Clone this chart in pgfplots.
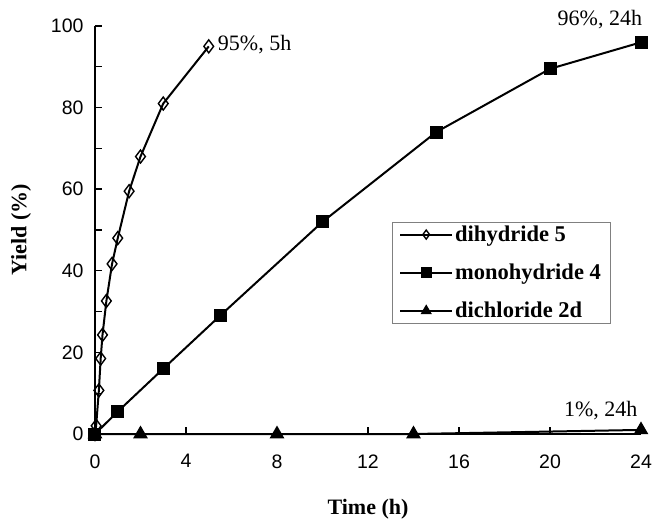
\documentclass[border=0pt]{standalone}
\usepackage{fontspec}
\setmainfont{Liberation Serif}
\newfontfamily\arial{Liberation Sans}
\usepackage{pgfplots}
\pgfplotsset{compat=1.18}

\begin{document}
\begin{tikzpicture}
  \begin{axis}[
      name=ax,
      scale only axis,
      width=546pt,
      height=408pt,
      xmin=0, xmax=24,
      ymin=0, ymax=100,
      axis lines=left,
      axis line style={line width=2pt, -},
      xtick={0,4,...,24},
      ytick={0,20,...,100},
      minor ytick={10,30,...,90},
      tick align=inside,
      major tick length=7pt,
      minor tick length=7pt,
      tick style={line width=1.4pt, black},
      /pgf/number format/assume math mode=true,
      tick label style={font=\arial\fontsize{19.5}{22}\selectfont},
      xticklabel style={yshift=-17pt},
      yticklabel style={xshift=-8pt},
      xlabel={\textbf{Time (h)}},
      ylabel={\textbf{Yield (\%)}},
      label style={font=\fontsize{22}{26}\selectfont},
      xlabel style={at={(axis description cs:0.5,0)}, yshift=-75pt, anchor=center},
      ylabel style={at={(axis description cs:-0.1355,0.5)}, anchor=center},
      clip=false,
      legend style={at={(0.544,0.52)}, anchor=north west, draw=gray,
        font=\bfseries\fontsize{22.5}{26}\selectfont, inner xsep=7pt, inner ysep=2pt,
        row sep=17pt, legend cell align=left},
      legend image code/.code={
        \draw[#1, line width=2pt, mark size=4.5pt, mark repeat=2, mark phase=2]
          plot coordinates {(0pt,0pt) (26pt,0pt) (52pt,0pt)};},
    ]
    \addplot[black, line width=2pt, mark=diamond, mark size=6.5pt,
      mark options={fill=white, line width=1.4pt}]
      coordinates {(0,0) (0.05,2) (0.17,10.7) (0.25,18.5) (0.33,24.3) (0.5,32.6)
        (0.75,41.7) (1,48) (1.5,59.5) (2,68) (3,81) (5,95)};
    \addlegendentry{dihydride 5}
    \addplot[black, line width=2pt, mark=square*, mark size=5.5pt]
      coordinates {(0,0) (1,5.5) (3,16) (5.5,29) (10,52) (15,74) (20,89.5) (24,96)};
    \addlegendentry{monohydride 4}
    \addplot[black, line width=2pt, mark=triangle*, mark size=6.5pt]
      coordinates {(0,0) (2,0) (8,0) (14,0) (24,1)};
    \addlegendentry{dichloride 2d}
    \node[anchor=west, font=\fontsize{22}{26}\selectfont] at (axis cs:5.25,95.5) {95\%, 5h};
    \node[anchor=south east, font=\fontsize{22}{26}\selectfont] at (axis cs:24.2,98.5) {96\%, 24h};
    \node[anchor=south east, font=\fontsize{22}{26}\selectfont] at (axis cs:24,2.5) {1\%, 24h};
  \end{axis}
  \pgfresetboundingbox
  \path ([xshift=-95pt,yshift=-85pt]ax.south west) rectangle ([xshift=14pt,yshift=26pt]ax.north east);
\end{tikzpicture}
\end{document}
